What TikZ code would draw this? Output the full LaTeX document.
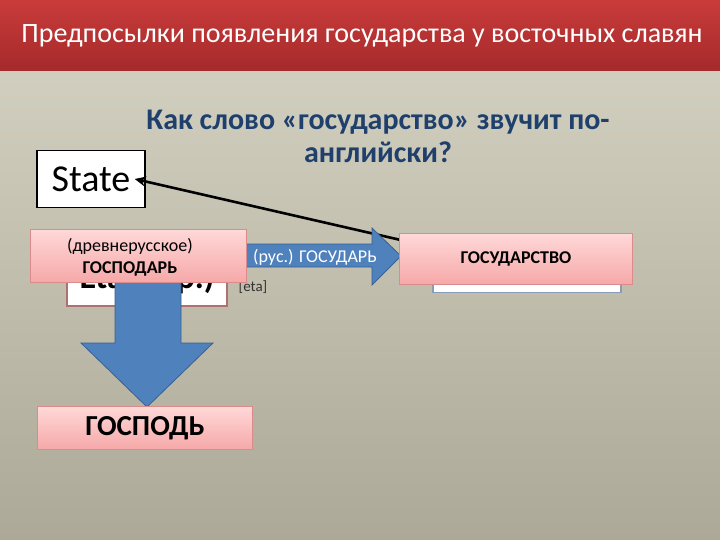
\documentclass[tikz,border=0pt]{standalone}
\usepackage{fontspec}
\setmainfont{Carlito}
\usetikzlibrary{arrows.meta}

\definecolor{titletop}{RGB}{201,59,59}
\definecolor{titlebot}{RGB}{165,42,42}
\definecolor{groundtop}{RGB}{214,212,196}
\definecolor{groundbot}{RGB}{173,169,153}
\definecolor{pinktop}{RGB}{255,216,216}
\definecolor{pinkbot}{RGB}{246,168,168}
\definecolor{pinkedge}{RGB}{218,140,140}
\definecolor{arrowblue}{RGB}{79,129,189}
\definecolor{arrowedge}{RGB}{56,96,146}
\definecolor{questionblue}{RGB}{31,63,108}

\begin{document}
\begin{tikzpicture}[x=1pt,y=-1pt,
    pinkbox/.style={draw=pinkedge, line width=1pt, top color=pinktop,
      bottom color=pinkbot, inner sep=0pt, align=center},
    whitebox/.style={draw=#1, fill=white, line width=1.5pt, inner sep=0pt},
    blockarrow/.style={fill=arrowblue, draw=arrowedge, line width=0.8pt},
    fsize/.style={font=\fontsize{#1}{#1}\selectfont}]
    \useasboundingbox (0,0) rectangle (720,540);
    \shade[top color=groundtop, bottom color=groundbot] (0,0) rectangle (720,540);
    \shade[top color=titletop, bottom color=titlebot] (0,0) rectangle (720,71);
    \node[text=white, fsize=28] (title) at (362,36)
      {Предпосылки появления государства у восточных славян};
    \node[text=questionblue, align=center, font=\bfseries\fontsize{30}{33}\selectfont]
      (question) at (378,136) {Как слово «государство» звучит по-\\английски?};
    \node[whitebox=black, minimum width=108, minimum height=57, fsize=38]
      (state) at (91,179) {State};
    \node[whitebox=black!30!arrowblue!60, minimum width=188, minimum height=53]
      (hidden) at (527,266) {};
    \node[whitebox=pinkedge!80!black, minimum width=160, minimum height=54,
      font=\bfseries\fontsize{34}{34}\selectfont] (etat) at (147,279) {Etat (фр.)};
    \node[text=black!80, fsize=15] (transcr) at (253,287) {[eta]};
    \coordinate (src) at (440,249);
    \draw[line width=2.6pt, -{Stealth[length=11pt,width=10pt]}]
      (src) -- ([xshift=-11pt]state.east);
    \filldraw[blockarrow] (240,244) -- (372,244) -- (372,228) -- (401,256)
      -- (372,285) -- (372,267) -- (240,267) -- cycle;
    \node[text=white, fsize=18] (rus) at (315,257) {(рус.) ГОСУДАРЬ};
    \filldraw[blockarrow] (115,280) -- (181,280) -- (181,343) -- (213,343)
      -- (147,407) -- (81,343) -- (115,343) -- cycle;
    \node[pinkbox, minimum width=216, minimum height=53] (gospodar)
      at (138,256) {};
    \node[align=center, font=\fontsize{18}{22}\selectfont] (gospodartext) at (130,257)
      {(древнерусское)\\\textbf{ГОСПОДАРЬ}};
    \node[pinkbox, minimum width=233, minimum height=51, font=\bfseries\fontsize{18}{18}\selectfont]
      (gosudarstvo) at (516,259) {ГОСУДАРСТВО};
    \node[pinkbox, minimum width=215, minimum height=43, font=\bfseries\fontsize{29}{29}\selectfont]
      (gospod) at (145,428) {ГОСПОДЬ};
  \end{tikzpicture}
\end{document}
